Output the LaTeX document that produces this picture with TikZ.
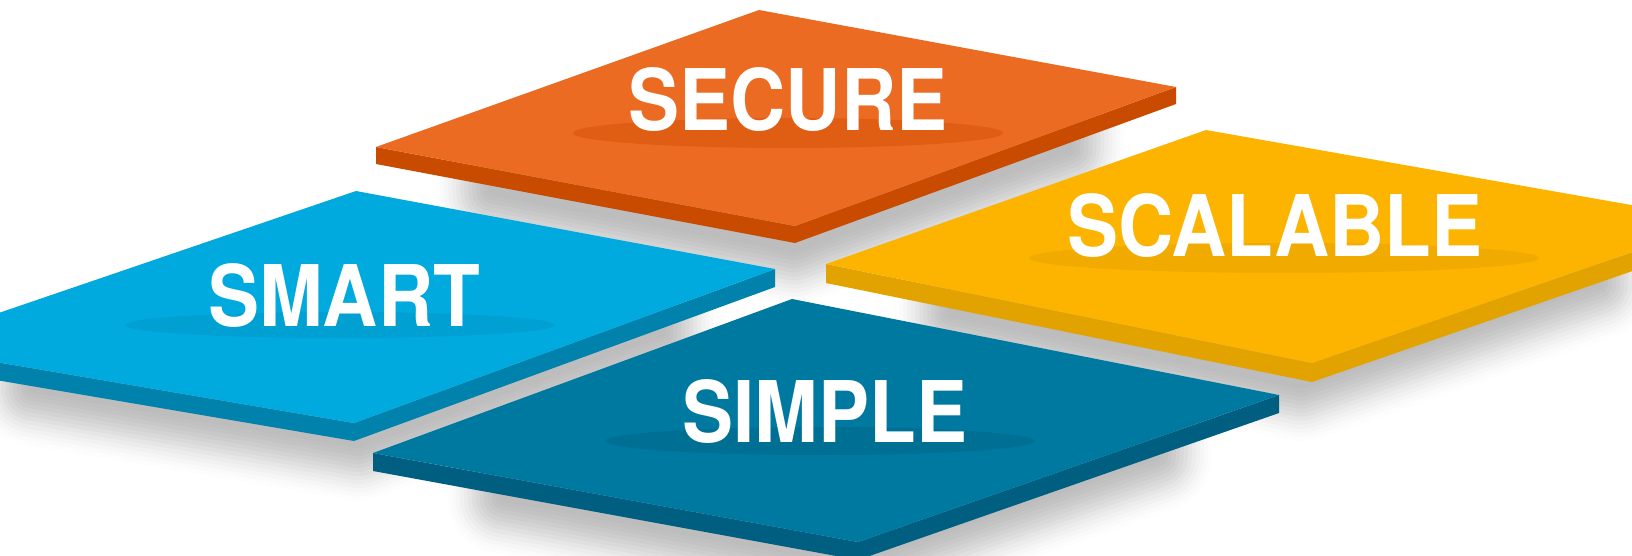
\documentclass[tikz,border=0pt]{standalone}
\usepackage{fontspec}
\usepackage{graphicx}
\setmainfont{TeX Gyre Heros}
\usetikzlibrary{calc}
\definecolor{secTop}{HTML}{EA6B21}
\definecolor{secSide}{HTML}{C84B00}
\definecolor{secEll}{HTML}{E05E13}
\definecolor{smaTop}{HTML}{00AADF}
\definecolor{smaSide}{HTML}{0082AC}
\definecolor{smaEll}{HTML}{00A0D3}
\definecolor{scaTop}{HTML}{FDB400}
\definecolor{scaSide}{HTML}{E2A200}
\definecolor{scaEll}{HTML}{F1AA00}
\definecolor{simTop}{HTML}{0079A1}
\definecolor{simSide}{HTML}{005F80}
\definecolor{simEll}{HTML}{006F94}
\newcommand{\narrowlbl}[1]{\scalebox{0.9}[1]{#1}}
\begin{document}
\begin{tikzpicture}[x=1pt,y=-1pt,
  lbl/.style={text=white, font=\fontsize{85}{90}\selectfont\bfseries, anchor=base, inner sep=0pt}]
\useasboundingbox (0,0) rectangle (1632,556);
\begin{scope}
\clip (0,0) rectangle (1632,556);
\fill[white] (0,0) rectangle (1632,556);
% corner coordinates
\coordinate (secT) at (759,10);  \coordinate (secR) at (1176,87);
\coordinate (secB) at (795,226); \coordinate (secL) at (376,147);
\coordinate (smaT) at (356,191); \coordinate (smaR) at (775,269);
\coordinate (smaB) at (354,423); \coordinate (smaL) at (-98,346);
\coordinate (scaT) at (1206,130); \coordinate (scaR) at (1722,221);
\coordinate (scaB) at (1312,363); \coordinate (scaL) at (826,264);
\coordinate (simT) at (792,299); \coordinate (simR) at (1279,395);
\coordinate (simB) at (858,542); \coordinate (simL) at (373,453);
% shadow outlines: tile outline moved down
\foreach \t/\d in {sec/17,sma/18,sca/19,sim/18} {
  \coordinate (\t pL) at ($(\t L)+(4,38)$);
  \coordinate (\t pT) at ($(\t T)+(4,38)$);
  \coordinate (\t pR) at ($(\t R)+(4,38)$);
  \coordinate (\t qR) at ($(\t R)+(4,{38+\d})$);
  \coordinate (\t qB) at ($(\t B)+(4,{38+\d})$);
  \coordinate (\t qL) at ($(\t L)+(4,{38+\d})$);
  \coordinate (\t C) at ($(\t pT)!0.5!(\t qB)$);
}
% soft ground shadows (layered greys)
\foreach \w in {120,112,...,0} {
  \pgfmathsetmacro\u{\w/124}
  \pgfmathsetmacro\g{26*(1-3*\u*\u+2*\u*\u*\u)}
  \colorlet{shc}{black!\g}
  \foreach \t in {sec,sma,sca,sim} {
    \filldraw[fill=shc, draw=shc, line width=\w pt, line join=round]
      ($(\t C)!0.72!(\t pL)$) -- ($(\t C)!0.72!(\t pT)$) -- ($(\t C)!0.72!(\t pR)$) --
      ($(\t C)!0.72!(\t qR)$) -- ($(\t C)!0.72!(\t qB)$) -- ($(\t C)!0.72!(\t qL)$) -- cycle;
  }
}
% SECURE tile
\fill[secSide] (secL) -- (secB) -- (secR) -- ($(secR)+(0,17)$) -- ($(secB)+(0,17)$) -- ($(secL)+(0,17)$) -- cycle;
\fill[secTop] (secL) -- (secT) -- (secR) -- (secB) -- cycle;
\fill[secEll] (788,133) ellipse [x radius=215, y radius=15];
\node[lbl] (secure) at (788,131) {\narrowlbl{SECURE}};
% SMART tile
\fill[smaSide] (smaL) -- (smaB) -- (smaR) -- ($(smaR)+(0,18)$) -- ($(smaB)+(0,18)$) -- ($(smaL)+(0,18)$) -- cycle;
\fill[smaTop] (smaL) -- (smaT) -- (smaR) -- (smaB) -- cycle;
\fill[smaEll] (340,325) ellipse [x radius=215, y radius=13];
\node[lbl] (smart) at (344,326) {\narrowlbl{SMART}};
% SCALABLE tile
\fill[scaSide] (scaL) -- (scaB) -- (scaR) -- ($(scaR)+(0,19)$) -- ($(scaB)+(0,19)$) -- ($(scaL)+(0,19)$) -- cycle;
\fill[scaTop] (scaL) -- (scaT) -- (scaR) -- (scaB) -- cycle;
\fill[scaEll] (1284,258) ellipse [x radius=255, y radius=15];
\node[lbl] (scalable) at (1275,256) {\narrowlbl{SCALABLE}};
% SIMPLE tile
\fill[simSide] (simL) -- (simB) -- (simR) -- ($(simR)+(0,18)$) -- ($(simB)+(0,18)$) -- ($(simL)+(0,18)$) -- cycle;
\fill[simTop] (simL) -- (simT) -- (simR) -- (simB) -- cycle;
\fill[simEll] (820,441) ellipse [x radius=215, y radius=14];
\node[lbl] (simple) at (825,442) {\narrowlbl{SIMPLE}};
\end{scope}
\end{tikzpicture}
\end{document}
